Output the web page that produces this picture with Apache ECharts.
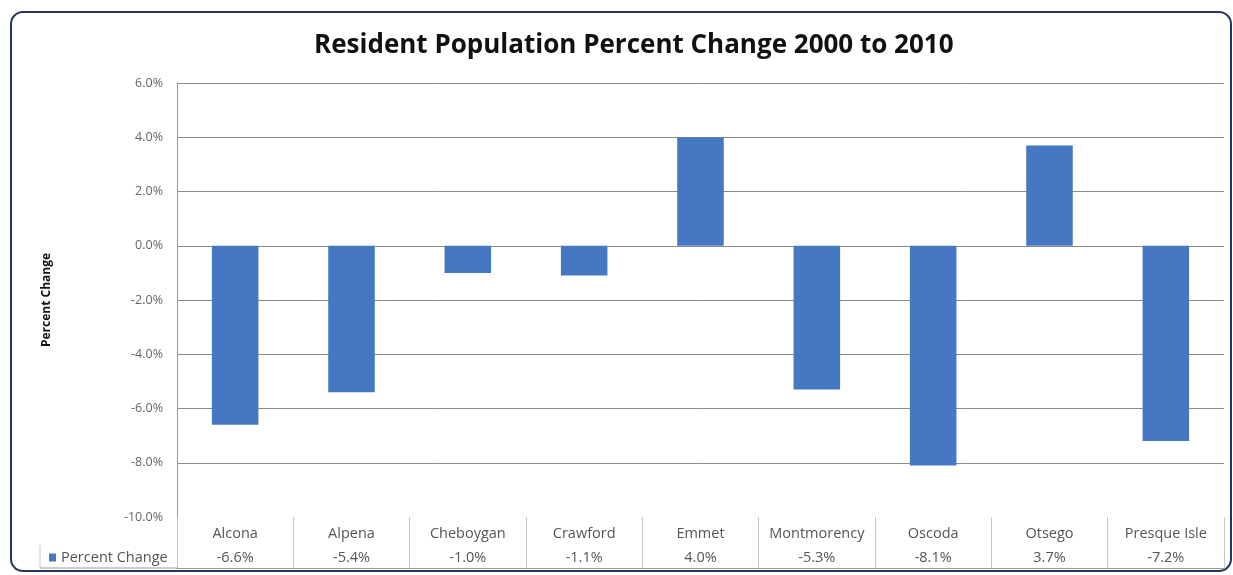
<!DOCTYPE html>
<html><head><meta charset="utf-8">
<script src="https://cdn.jsdelivr.net/npm/echarts@6/dist/echarts.min.js"></script>
<style>html,body{margin:0;padding:0;background:#fff}#c{width:1233px;height:575px}</style>
</head><body><div id="c"></div>
<script>
const categories = ['Alcona','Alpena','Cheboygan','Crawford','Emmet','Montmorency','Oscoda','Otsego','Presque Isle'];
const percentChange = [-6.6,-5.4,-1.0,-1.1,4.0,-5.3,-8.1,3.7,-7.2];
const yTicks = {min:-10, max:6, interval:2};
const seriesName = 'Percent Change';
const titleText = 'Resident Population Percent Change 2000 to 2010';

const chart = echarts.init(document.getElementById('c'));
const fmt = v => v.toFixed(1) + '%';
chart.setOption({
  animation:false,
  title:{text:titleText,left:'51%',textAlign:'center',top:28,textStyle:{fontFamily:'Open Sans',fontWeight:'bold',fontSize:26,color:'#111'}},
  legend:{left:44,top:545,itemWidth:7,itemHeight:8,itemGap:5,icon:'rect',
    textStyle:{fontFamily:'Open Sans',fontSize:14.5,color:'#555'},data:[seriesName]},
  grid:[
    {left:177,right:9,top:83,height:434},
    {left:177,right:9,top:517,height:51}
  ],
  xAxis:[
    {type:'category',gridIndex:0,data:categories,axisLine:{show:false},axisTick:{show:false},axisLabel:{show:false}},
    {type:'category',gridIndex:1,data:categories,position:'bottom',
      axisLine:{show:true,lineStyle:{color:'#9a9a9a',width:1}},axisTick:{show:false},
      splitLine:{show:true,lineStyle:{color:'#c8c8c8',width:1}},
      axisLabel:{inside:true,margin:-2,interval:0,
        formatter:(v,i)=>'{n|'+v+'}\n{v|'+fmt(percentChange[i])+'}',
        rich:{n:{fontFamily:'Open Sans',fontSize:14.5,color:'#555',lineHeight:24,align:'center'},
              v:{fontFamily:'Open Sans',fontSize:14.5,color:'#555',lineHeight:24,align:'center'}}}}
  ],
  yAxis:[
    {type:'value',gridIndex:0,min:yTicks.min,max:yTicks.max,interval:yTicks.interval,
      name:'Percent Change',nameLocation:'middle',nameGap:124,
      nameTextStyle:{fontFamily:'Open Sans',fontWeight:'bold',fontSize:12,color:'#111'},
      axisLine:{show:true,lineStyle:{color:'#9a9a9a'}},axisTick:{show:false},
      axisLabel:{formatter:fmt,margin:14,fontFamily:'Open Sans',fontSize:12.5,color:'#666'},
      splitLine:{show:true,lineStyle:{color:['rgba(0,0,0,0)','#8a8a8a','#8a8a8a','#8a8a8a','#8a8a8a','#8a8a8a','#8a8a8a','#8a8a8a','#8a8a8a'],width:1}}},
    {type:'value',gridIndex:1,min:0,max:1,show:false}
  ],
  series:[{name:seriesName,type:'bar',xAxisIndex:0,yAxisIndex:0,data:percentChange,barWidth:'40%',
    itemStyle:{color:'#4677C2'}}],
  graphic:[
    {type:'rect',shape:{x:11,y:12,width:1220,height:559,r:12},style:{fill:'none',stroke:'#26365f',lineWidth:2},z:-1},
    {type:'line',shape:{x1:40,y1:545,x2:40,y2:568},style:{stroke:'#c8c8c8',lineWidth:1}},
    {type:'line',shape:{x1:40,y1:568,x2:177,y2:568},style:{stroke:'#9a9a9a',lineWidth:1}}
  ]
});
</script></body></html>
